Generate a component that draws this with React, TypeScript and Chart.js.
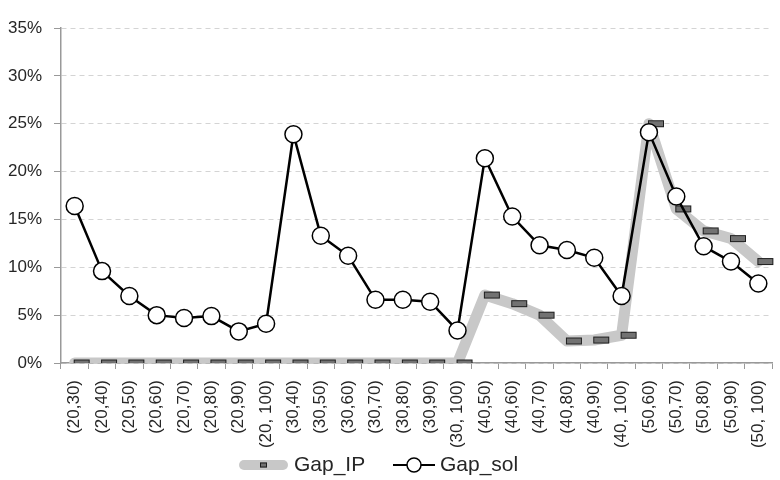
import React, { useEffect, useRef } from "react";
import { Chart, CategoryScale, registerables } from "chart.js";

Chart.register(...registerables);

// category axis that asks for no side padding, so the plot runs to the layout edge
class TightCategoryScale extends CategoryScale {
  static id = "tightCategory";
  static defaults = CategoryScale.defaults;
  getPadding() {
    return { left: 0, top: 0, right: 0, bottom: 0 };
  }
}
Chart.register(TightCategoryScale);

const categories: string[] = [
  "(20,30)", "(20,40)", "(20,50)", "(20,60)", "(20,70)", "(20,80)", "(20,90)", "(20, 100)",
  "(30,40)", "(30,50)", "(30,60)", "(30,70)", "(30,80)", "(30,90)", "(30, 100)",
  "(40,50)", "(40,60)", "(40,70)", "(40,80)", "(40,90)", "(40, 100)",
  "(50,60)", "(50,70)", "(50,80)", "(50,90)", "(50, 100)",
];

// gap values in percent
const gapIP: number[] = [
  0, 0, 0, 0, 0, 0, 0, 0,
  0, 0, 0, 0, 0, 0, 0,
  7.1, 6.2, 5.0, 2.3, 2.4, 2.9,
  25.0, 16.1, 13.8, 13.0, 10.6,
];

const gapSol: number[] = [
  16.4, 9.6, 7.0, 5.0, 4.7, 4.9, 3.3, 4.1,
  23.9, 13.3, 11.2, 6.6, 6.6, 6.4, 3.4,
  21.4, 15.3, 12.3, 11.8, 11.0, 7.0,
  24.1, 17.4, 12.2, 10.6, 8.3,
];

const yTicks: number[] = [0, 5, 10, 15, 20, 25, 30, 35];

const FONT = "'Liberation Sans', Arial, sans-serif";
const TEXT = "#262626";
const IP_LINE = "#c8c8c8";
const IP_MARK = "#727272";
const IP_MARK_EDGE = "#1e1e1e";

// small dark bar marker, sitting a little right of its point
function makeBarMarker(offsetX: number): HTMLCanvasElement {
  const w = 16, h = 7;
  const c = document.createElement("canvas");
  c.width = 2 * (offsetX + w / 2) + 2;
  c.height = h + 2;
  const g = c.getContext("2d")!;
  const left = Math.round(c.width / 2 + offsetX - w / 2);
  g.fillStyle = IP_MARK;
  g.fillRect(left, 1, w, h);
  g.strokeStyle = IP_MARK_EDGE;
  g.lineWidth = 1;
  g.strokeRect(left + 0.5, 1.5, w - 1, h - 1);
  return c;
}

const legendPlugin = {
  id: "bottomLegend",
  afterDraw(chart: Chart) {
    const ctx = chart.ctx;
    const y = 465;
    ctx.save();
    // Gap_IP sample
    ctx.strokeStyle = IP_LINE;
    ctx.lineWidth = 10;
    ctx.lineCap = "round";
    ctx.beginPath();
    ctx.moveTo(244, y);
    ctx.lineTo(283, y);
    ctx.stroke();
    ctx.fillStyle = IP_MARK;
    ctx.fillRect(260, y - 2.5, 7, 5);
    ctx.strokeStyle = IP_MARK_EDGE;
    ctx.lineWidth = 1;
    ctx.strokeRect(260.5, y - 2, 6, 4);
    // Gap_sol sample
    ctx.strokeStyle = "#000";
    ctx.lineWidth = 2;
    ctx.lineCap = "butt";
    ctx.beginPath();
    ctx.moveTo(393, y);
    ctx.lineTo(435, y);
    ctx.stroke();
    ctx.beginPath();
    ctx.arc(414, y, 7, 0, Math.PI * 2);
    ctx.fillStyle = "#fff";
    ctx.fill();
    ctx.lineWidth = 1.5;
    ctx.stroke();
    // labels
    ctx.fillStyle = TEXT;
    ctx.font = `21px ${FONT}`;
    ctx.textBaseline = "middle";
    ctx.textAlign = "left";
    ctx.fillText("Gap_IP", 294, y);
    ctx.fillText("Gap_sol", 440, y);
    ctx.restore();
  },
};

export default function App() {
  const ref = useRef<HTMLCanvasElement | null>(null);

  useEffect(() => {
    if (!ref.current) return;
    const chart = new Chart(ref.current, {
      type: "line",
      data: {
        labels: categories,
        datasets: [
          {
            label: "Gap_sol",
            data: gapSol,
            borderColor: "#000",
            borderWidth: 2.5,
            pointStyle: "circle",
            pointRadius: 8.5,
            pointBackgroundColor: "#fff",
            pointBorderColor: "#000",
            pointBorderWidth: 1.5,
            tension: 0,
          },
          {
            label: "Gap_IP",
            data: gapIP,
            borderColor: IP_LINE,
            borderWidth: 11,
            borderJoinStyle: "round",
            borderCapStyle: "round",
            pointStyle: makeBarMarker(7),
            pointRadius: 8,
            tension: 0,
          },
        ],
      },
      options: {
        animation: false,
        responsive: false,
        maintainAspectRatio: false,
        devicePixelRatio: 1,
        layout: { autoPadding: false, padding: { top: 28, right: 8, bottom: 32, left: 0 } },
        plugins: {
          legend: { display: false },
          tooltip: { enabled: false },
        },
        scales: {
          x: {
            type: "tightCategory",
            offset: true,
            grid: {
              offset: true,
              drawOnChartArea: false,
              drawTicks: true,
              tickLength: 6,
              tickColor: "#999",
            },
            border: { color: "#999", width: 1.5 },
            ticks: {
              autoSkip: false,
              maxRotation: 90,
              minRotation: 90,
              padding: 11,
              color: TEXT,
              font: { family: FONT, size: 17 },
            },
            afterFit: (s: any) => {
              s.height = 85;
            },
          },
          y: {
            min: 0,
            max: 35,
            afterBuildTicks: (s: any) => {
              s.ticks = yTicks.map((v) => ({ value: v }));
            },
            grid: {
              color: "#d4d4d4",
              lineWidth: 1,
              drawTicks: true,
              tickLength: 7,
              tickColor: "#999",
            },
            border: { color: "#999", width: 1.5, dash: [5, 4] },
            ticks: {
              padding: 12,
              color: TEXT,
              font: { family: FONT, size: 17 },
              callback: (v: any) => `${v}%`,
            },
            afterFit: (s: any) => {
              s.width = 61;
            },
          },
        },
      },
      plugins: [legendPlugin],
    });
    return () => chart.destroy();
  }, []);

  return (
    <div style={{ position: "fixed", left: 0, top: 0, width: 780, height: 480, background: "#fff" }}>
      <canvas ref={ref} width={780} height={480} style={{ width: 780, height: 480, display: "block" }} />
    </div>
  );
}
